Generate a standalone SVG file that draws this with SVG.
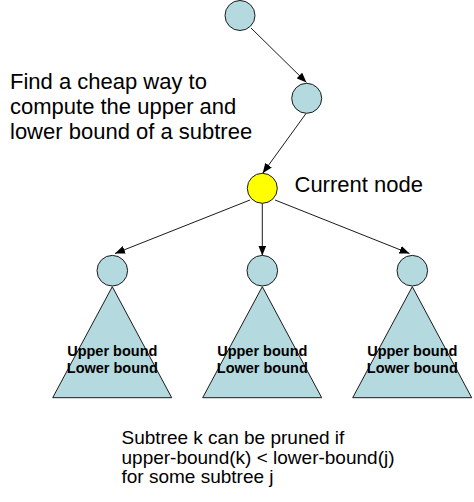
<svg xmlns="http://www.w3.org/2000/svg" width="474" height="502" viewBox="0 0 474 502">
<defs>
<style>
.node{fill:#b4dadf;stroke:#1a1a1a;stroke-width:1}
.cur{fill:#ffff00;stroke:#1a1a1a;stroke-width:1}
.edge{stroke:#1a1a1a;stroke-width:1;fill:none;marker-end:url(#ah)}
.lbl{font-family:"Liberation Sans",Arial,sans-serif;font-size:22px;fill:#000}
.note{font-family:"Liberation Sans",Arial,sans-serif;font-size:19px;fill:#000}
.bnd{font-family:"Liberation Sans",Arial,sans-serif;font-size:14.5px;font-weight:bold;fill:#000;text-anchor:middle}
</style>
<marker id="ah" viewBox="0 0 10 8" refX="10" refY="4" markerWidth="10" markerHeight="8" markerUnits="userSpaceOnUse" orient="auto">
<path d="M0,0 L10,4 L0,8 z" fill="#000"/>
</marker>
</defs>
<rect width="474" height="502" fill="#fff"/>
<g id="connectors">
<line class="edge" x1="251" y1="28" x2="306.5" y2="82.5"/>
<line class="edge" x1="306" y1="113.5" x2="262.7" y2="173.3"/>
<line class="edge" x1="250" y1="200" x2="115" y2="253.5"/>
<line class="edge" x1="262.3" y1="203.3" x2="262.3" y2="255.5"/>
<line class="edge" x1="275" y1="200" x2="409.5" y2="253.5"/>
</g>
<g id="root"><circle class="node" cx="240" cy="15.5" r="15"/></g>
<g id="mid"><circle class="node" cx="306.7" cy="98.3" r="15"/></g>
<g id="current"><circle class="cur" cx="262.3" cy="188.3" r="15"/></g>
<g id="child-left">
<polygon class="node" points="112.3,286.7 52.7,397.7 171.7,397.7"/>
<circle class="node" cx="112.3" cy="270.7" r="15.3"/>
<text class="bnd" x="112.3" y="356">Upper bound</text>
<text class="bnd" x="112.3" y="373">Lower bound</text>
</g>
<g id="child-middle">
<polygon class="node" points="262.3,286.7 202.7,397.7 321.7,397.7"/>
<circle class="node" cx="262.3" cy="270.7" r="15.3"/>
<text class="bnd" x="262.3" y="356">Upper bound</text>
<text class="bnd" x="262.3" y="373">Lower bound</text>
</g>
<g id="child-right">
<polygon class="node" points="412.3,286.7 352.7,397.7 471.7,397.7"/>
<circle class="node" cx="412.3" cy="270.7" r="15.3"/>
<text class="bnd" x="412.3" y="356">Upper bound</text>
<text class="bnd" x="412.3" y="373">Lower bound</text>
</g>
<g id="labels">
<text class="lbl" x="10" y="89">Find a cheap way to</text>
<text class="lbl" x="10" y="114">compute the upper and</text>
<text class="lbl" x="10" y="139">lower bound of a subtree</text>
<text class="lbl" x="294.5" y="191.5">Current node</text>
<text class="note" x="121.5" y="444">Subtree k can be pruned if</text>
<text class="note" x="121.5" y="463.5">upper-bound(k) &lt; lower-bound(j)</text>
<text class="note" x="121.5" y="483">for some subtree j</text>
</g>
</svg>
